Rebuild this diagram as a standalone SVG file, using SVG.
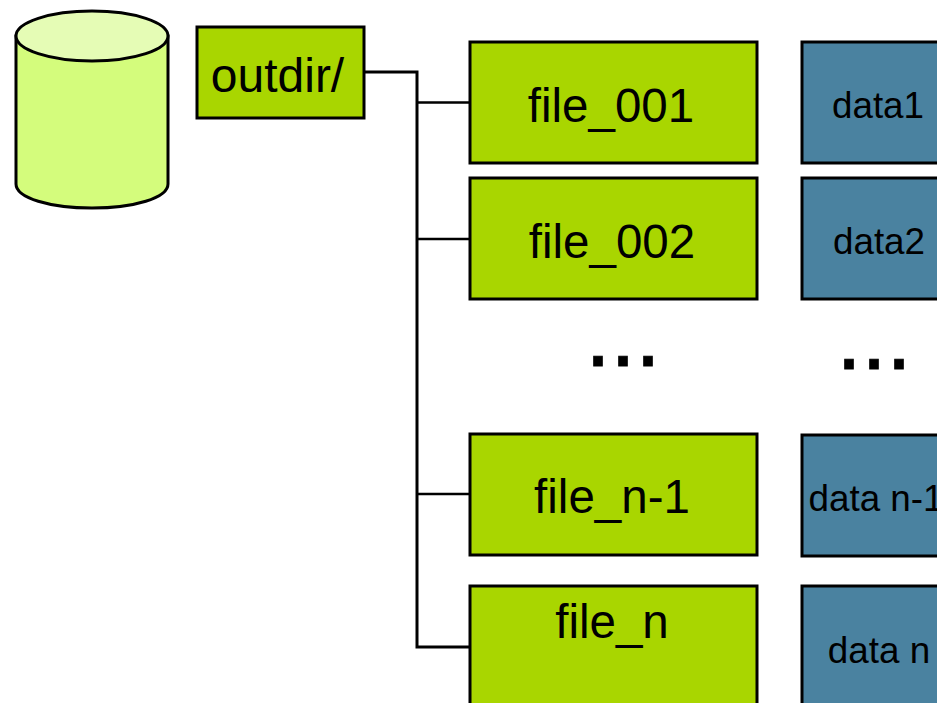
<svg xmlns="http://www.w3.org/2000/svg" width="937" height="703" viewBox="0 0 937 703">
<style>
text{font-family:"Liberation Sans",Arial,sans-serif;fill:#000;text-anchor:middle}
.f{fill:#a9d600;stroke:#000;stroke-width:3}
.d{fill:#4a82a0;stroke:#000;stroke-width:3}
.t{font-size:47.5px}
.s{font-size:36.8px}
.e{font-size:90px;stroke:#000;stroke-width:1}
.c{fill:none;stroke:#000;stroke-width:3}
.b{fill:none;stroke:#000;stroke-width:2.4}
.cyl{stroke:#000;stroke-width:3}
</style>
<rect width="937" height="703" fill="#fff"/>
<g id="cylinder"><path class="cyl" d="M16 36V184C16 198 50 208 92 208S168 198 168 184V36Z" fill="#d4fc7c"/><ellipse class="cyl" cx="92" cy="36" rx="76" ry="25" fill="#e5fcb5"/></g>
<g id="connectors"><path class="c" d="M364 72H417V647H470"/><path class="b" d="M417 102.500H470M417 239H470M417 494H470"/></g>
<g id="outdir"><rect class="f" x="197" y="27" width="167" height="91"/><text x="277.500" y="92" font-size="48">outdir/</text></g>
<g id="file_001"><rect class="f" x="470" y="42" width="287" height="121"/><text class="t" x="611" y="122">file_001</text></g>
<g id="file_002"><rect class="f" x="470" y="178" width="287" height="121"/><text class="t" x="612" y="258">file_002</text></g>
<g id="file_n-1"><rect class="f" x="470" y="434" width="287" height="121"/><text class="t" x="612" y="513">file_n-1</text></g>
<g id="file_n"><rect class="f" x="470" y="586" width="287" height="130"/><text class="t" x="612" y="638">file_n</text></g>
<g id="data1"><rect class="d" x="802" y="42" width="150" height="121"/><text class="s" x="878" y="118">data1</text></g>
<g id="data2"><rect class="d" x="802" y="178" width="150" height="121"/><text class="s" x="879" y="254">data2</text></g>
<g id="data_n-1"><rect class="d" x="802" y="435" width="150" height="121"/><text class="s" x="876" y="511">data n-1</text></g>
<g id="data_n"><rect class="d" x="802" y="586" width="150" height="130"/><text class="s" x="879" y="663">data n</text></g>
<g id="ellipsis-1"><text class="e" x="623" y="366">...</text></g>
<g id="ellipsis-2"><text class="e" x="874" y="369">...</text></g>
</svg>
